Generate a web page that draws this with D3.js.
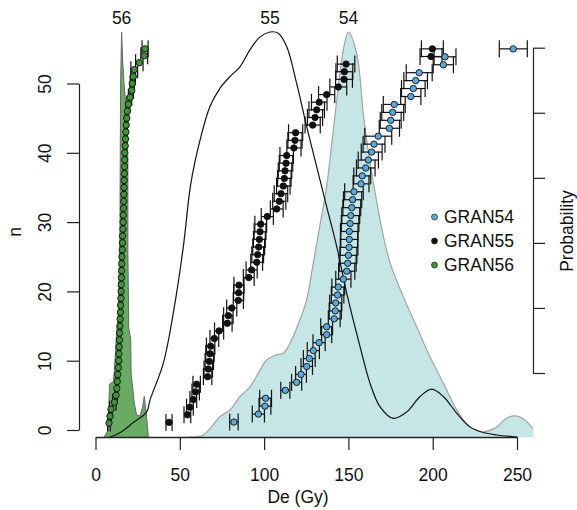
<!DOCTYPE html>
<html>
<head>
<meta charset="utf-8">
<script src="https://cdn.jsdelivr.net/npm/d3@7"></script>
<style>
  body { margin: 0; background: #fff; }
  svg text { font-family: "Liberation Sans", Arial, Helvetica, sans-serif; font-size: 17.5px; fill: #111; }
</style>
</head>
<body>
<svg width="577" height="510"></svg>
<script>
// sorted equivalent doses (Gy) and their errors, one list per sample
const de54 = [82.1, 96.6, 100.5, 100.9, 112.6, 119.3, 121.9, 125.3, 126.8, 129.2, 132.6, 137.1, 137.1, 141.6, 142.2, 142.5, 143.6, 144.0, 147.0, 149.0, 149.6, 150.0, 150.4, 150.5, 150.5, 151.0, 151.4, 152.0, 152.5, 153.3, 157.5, 158.2, 160.3, 161.8, 163.8, 165.2, 167.7, 174.3, 175.1, 176.3, 177.2, 187.0, 188.5, 189.9, 192.0, 206.3, 207.3, 247.8];
const err54 = [2.5, 3.6, 3.5, 3.5, 2.7, 3.0, 3.2, 3.4, 3.5, 3.6, 3.6, 3.0, 3.5, 3.5, 3.6, 3.6, 3.7, 3.8, 4.5, 4.8, 5.0, 5.0, 5.2, 5.0, 5.2, 5.2, 5.3, 5.3, 5.4, 5.5, 4.7, 5.0, 5.5, 6.0, 6.2, 6.5, 8.0, 6.0, 6.2, 6.5, 6.5, 6.0, 7.0, 7.0, 7.7, 6.0, 6.5, 8.3];

const de55 = [43.6, 54.5, 56.0, 58.0, 59.4, 60.0, 66.5, 66.9, 67.5, 67.9, 68.3, 70.5, 73.3, 78.2, 78.8, 80.8, 84.7, 84.9, 85.1, 90.9, 92.6, 95.6, 96.2, 96.8, 97.2, 97.6, 98.0, 101.9, 107.5, 109.0, 110.0, 111.4, 112.0, 112.4, 113.0, 113.4, 117.7, 118.3, 118.7, 128.8, 130.2, 131.2, 132.7, 137.1, 144.0, 147.4, 147.6, 148.6, 199.0, 199.8];
const err55 = [1.8, 2.0, 2.0, 2.0, 2.2, 2.2, 2.5, 2.5, 2.5, 2.5, 2.5, 2.6, 2.7, 2.8, 2.8, 3.0, 3.0, 3.0, 3.0, 3.2, 3.3, 3.5, 3.5, 3.5, 3.5, 3.5, 3.5, 3.6, 3.8, 3.9, 4.0, 4.0, 4.0, 4.0, 4.0, 4.0, 4.2, 4.2, 4.2, 4.5, 4.5, 4.6, 4.6, 4.8, 5.0, 5.0, 5.0, 5.2, 6.5, 6.5];

const de56 = [8.0, 8.6, 9.2, 11.2, 12.2, 12.6, 12.9, 13.2, 13.5, 13.8, 13.9, 14.0, 14.2, 14.3, 14.5, 14.6, 14.8, 14.9, 15.1, 15.2, 15.3, 15.4, 15.5, 15.6, 15.7, 15.9, 16.0, 16.1, 16.3, 16.4, 16.5, 16.6, 16.7, 16.8, 16.9, 17.0, 17.1, 17.2, 17.3, 17.4, 17.6, 17.8, 18.0, 18.2, 18.5, 18.9, 19.5, 20.5, 21.5, 21.8, 22.4, 23.0, 26.0, 28.9, 29.4];
const err56 = [0.8, 0.8, 0.9, 1.0, 0.8, 0.6, 0.6, 0.6, 0.6, 0.6, 0.6, 0.6, 0.6, 0.6, 0.6, 0.6, 0.6, 0.6, 0.6, 0.6, 0.6, 0.6, 0.6, 0.6, 0.6, 0.6, 0.6, 0.6, 0.6, 0.6, 0.6, 0.6, 0.6, 0.6, 0.6, 0.6, 0.6, 0.6, 0.6, 0.6, 0.7, 0.7, 0.7, 0.7, 0.8, 0.8, 0.9, 1.0, 1.0, 1.2, 1.3, 2.0, 2.2, 2.0, 1.8];

// kernel density curves (relative height, peak = 1)
const dens54De = [55, 63.9, 73.8, 79.8, 85.7, 91.6, 97.6, 101.5, 106.5, 111.4, 115.4, 121.3, 125.3, 129.2, 133, 137.1, 140, 143.1, 147, 150, 154.9, 158.8, 162, 166, 170, 174.7, 182.6, 190.5, 198.4, 206.3, 214.2, 222.1, 230, 238, 242.9, 247.8, 251.8, 255.8, 259.7, 265, 270];
const dens54 = [0, 0.005, 0.05, 0.067, 0.1, 0.124, 0.165, 0.19, 0.202, 0.207, 0.232, 0.29, 0.34, 0.43, 0.52, 0.618, 0.72, 0.832, 0.956, 1.0, 0.947, 0.8, 0.7, 0.6, 0.51, 0.43, 0.346, 0.272, 0.198, 0.133, 0.067, 0.025, 0.013, 0.025, 0.044, 0.052, 0.049, 0.038, 0.021, 0.008, 0];

const dens55De = [8.6, 15, 22.2, 30.4, 32.3, 40.2, 46.1, 52.1, 56.5, 62.0, 67.9, 73.8, 79.8, 85.7, 91.6, 97.6, 103.5, 108.4, 113.4, 119.3, 125.3, 131.2, 137.1, 143.1, 149.0, 156.9, 162.8, 168.7, 176.6, 184.6, 192.5, 199.4, 206.3, 214.2, 222.1, 230.0, 238.0, 250];
const dens55 = [0, 0.012, 0.035, 0.062, 0.091, 0.182, 0.305, 0.47, 0.625, 0.733, 0.816, 0.861, 0.89, 0.914, 0.956, 0.988, 1.0, 0.997, 0.964, 0.873, 0.766, 0.667, 0.569, 0.47, 0.355, 0.223, 0.133, 0.075, 0.046, 0.062, 0.1, 0.118, 0.1, 0.059, 0.025, 0.011, 0.005, 0];

const dens56De = [5.2, 7.6, 8.3, 10.6, 11.2, 12.6, 13.5, 14.1, 14.5, 14.7, 14.9, 15.5, 16.1, 16.9, 18.1, 18.9, 19.2, 19.2, 19.5, 19.7, 20.9, 21.1, 23.0, 24.4, 26.4, 28.0, 28.9, 30.0, 31.0, 31.3];
const dens56 = [0, 0.017, 0.13, 0.137, 0.165, 0.264, 0.305, 0.429, 0.511, 0.709, 0.874, 1.0, 0.93, 0.874, 0.816, 0.77, 0.667, 0.46, 0.35, 0.27, 0.24, 0.158, 0.083, 0.054, 0.052, 0.075, 0.1, 0.062, 0.017, 0];

const samples = ["GRAN54", "GRAN55", "GRAN56"];
const peakLabels = ["54", "55", "56"];
const xTicks = [0, 50, 100, 150, 200, 250];
const yTicks = [0, 10, 20, 30, 40, 50];
const probTicks = [0, 0.2, 0.4, 0.6, 0.8, 1];
const nMax = 55;

const svg = d3.select("svg");

const x = d3.scaleLinear().domain([0, 250]).range([95.5, 517]);
const y = d3.scaleLinear().domain([0, 50]).range([430, 83.5]);
const yD = d3.scaleLinear().domain([0, 1]).range([437, 32]);
const yP = d3.scaleLinear().domain([0, 1]).range([373, 47.7]);

svg.append("defs").append("clipPath").attr("id", "plotclip")
  .append("rect").attr("x", 80).attr("y", 0).attr("width", 453).attr("height", 437);

const dens = svg.append("g").attr("clip-path", "url(#plotclip)");

const pts = (xs, vs) => xs.map((v, i) => [v, vs[i]]);

const areaSmooth = d3.area().x(d => x(d[0])).y0(yD(0)).y1(d => yD(d[1])).curve(d3.curveCatmullRom);
const lineSmooth = d3.line().x(d => x(d[0])).y(d => yD(d[1])).curve(d3.curveCatmullRom);
const areaLin = d3.area().x(d => x(d[0])).y0(yD(0)).y1(d => yD(d[1]));
const lineLin = d3.line().x(d => x(d[0])).y(d => yD(d[1]));

// GRAN54 density
dens.append("path").attr("d", areaSmooth(pts(dens54De, dens54)))
  .attr("fill", "#c6e5e6").attr("stroke", "none");
dens.append("path").attr("d", lineSmooth(pts(dens54De, dens54)))
  .attr("fill", "none").attr("stroke", "#a3a3a3").attr("stroke-width", 1.2);

// GRAN56 density
dens.append("path").attr("d", areaLin(pts(dens56De, dens56)))
  .attr("fill", "#6aab64").attr("stroke", "none");
dens.append("path").attr("d", lineLin(pts(dens56De, dens56)))
  .attr("fill", "none").attr("stroke", "#666", "stroke-width").attr("stroke-width", 1);

// GRAN55 density, line only
dens.append("path").attr("d", lineSmooth(pts(dens55De, dens55)))
  .attr("fill", "none").attr("stroke", "#111").attr("stroke-width", 1.2);

// peak labels
const peakX = (xs, vs) => xs[vs.indexOf(d3.max(vs))];
const peaks = [peakX(dens54De, dens54), peakX(dens55De, dens55), peakX(dens56De, dens56)];
svg.selectAll(".peak").data(peaks).enter().append("text")
  .attr("class", "peak")
  .attr("x", d => x(d)).attr("y", 18).attr("dy", "0.35em")
  .attr("text-anchor", "middle")
  .text((d, i) => peakLabels[i]);

// x axis
const xAxis = svg.append("g").attr("transform", "translate(0,437)")
  .call(d3.axisBottom(x).tickValues(xTicks).tickSize(13).tickSizeOuter(0).tickPadding(19));
xAxis.select(".domain").attr("stroke", "#222").attr("stroke-width", 1.6);
xAxis.selectAll(".tick line").attr("stroke", "#222").attr("stroke-width", 1.2);
xAxis.selectAll("text").attr("font-size", null).attr("font-family", null);

// y axis (n)
const yAxis = svg.append("g").attr("transform", "translate(79,0)")
  .call(d3.axisLeft(y).tickValues(yTicks).tickSize(12).tickSizeOuter(0));
yAxis.select(".domain").attr("stroke", "#222").attr("stroke-width", 1.2);
yAxis.selectAll(".tick line").attr("stroke", "#222").attr("stroke-width", 1.2);
yAxis.selectAll("text").attr("font-size", null).attr("font-family", null)
  .attr("x", 0).attr("dy", "0.35em").attr("text-anchor", "middle")
  .attr("transform", "translate(-34,0) rotate(-90)");

// probability axis
const pAxis = svg.append("g").attr("transform", "translate(533,0)")
  .call(d3.axisRight(yP).tickValues(probTicks).tickSize(12).tickSizeOuter(0).tickFormat(""));
pAxis.select(".domain").attr("stroke", "#222").attr("stroke-width", 1.2);
pAxis.selectAll(".tick line").attr("stroke", "#222").attr("stroke-width", 1.2);

// axis titles
svg.append("text").attr("x", 298).attr("y", 503).attr("text-anchor", "middle").text("De (Gy)");
svg.append("text").attr("transform", "translate(15,232) rotate(-90)")
  .attr("dy", "0.35em").attr("text-anchor", "middle").text("n");
svg.append("text").attr("transform", "translate(567,231) rotate(-90)")
  .attr("dy", "0.35em").attr("text-anchor", "middle").text("Probability");

// points with horizontal error bars
const fills = { GRAN54: "#5aa8dc", GRAN55: "#111", GRAN56: "#3f9437" };
const sets = [
  { name: "GRAN56", de: de56, err: err56 },
  { name: "GRAN55", de: de55, err: err55 },
  { name: "GRAN54", de: de54, err: err54 }
];

sets.forEach(s => {
  const N = s.de.length;
  const data = s.de.map((v, i) => ({ de: v, err: s.err[i], n: (i + 1) * nMax / N }));
  const g = svg.append("g");
  const bars = g.selectAll(".eb").data(data).enter().append("g").attr("class", "eb")
    .attr("stroke", "#111").attr("stroke-width", 1.2);
  bars.append("line")
    .attr("x1", d => x(d.de - d.err)).attr("x2", d => x(d.de + d.err))
    .attr("y1", d => y(d.n)).attr("y2", d => y(d.n));
  bars.append("line")
    .attr("x1", d => x(d.de - d.err)).attr("x2", d => x(d.de - d.err))
    .attr("y1", d => y(d.n) - 8.5).attr("y2", d => y(d.n) + 8.5);
  bars.append("line")
    .attr("x1", d => x(d.de + d.err)).attr("x2", d => x(d.de + d.err))
    .attr("y1", d => y(d.n) - 8.5).attr("y2", d => y(d.n) + 8.5);
  g.selectAll(".pt").data(data).enter().append("circle").attr("class", "pt")
    .attr("cx", d => x(d.de)).attr("cy", d => y(d.n))
    .attr("r", 3.2)
    .attr("fill", fills[s.name])
    .attr("stroke", "#111").attr("stroke-width", 0.9);
});

// legend
const legend = svg.append("g");
samples.forEach((s, i) => {
  const ly = 217 + i * 24;
  legend.append("circle").attr("cx", 434.5).attr("cy", ly).attr("r", 3)
    .attr("fill", fills[s]).attr("stroke", "#111").attr("stroke-width", 0.6);
  legend.append("text").attr("x", 444).attr("y", ly).attr("dy", "0.35em").text(s);
});
</script>
</body>
</html>
